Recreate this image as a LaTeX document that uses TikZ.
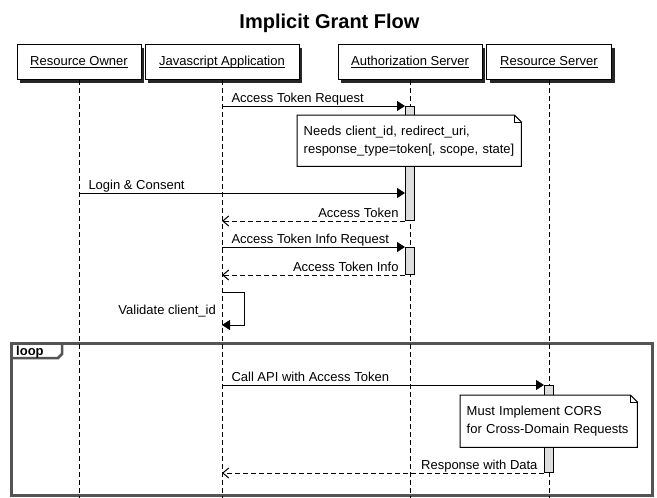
\documentclass[tikz,border=0pt]{standalone}
\usepackage{fontspec}
\setmainfont{Liberation Sans}
\usetikzlibrary{
    positioning,      % relative placement
    arrows.meta,      % Triangle and Straight Barb tips
    shadows           % drop shadow of the participant boxes
}

\begin{document}
\begin{tikzpicture}[
    x=1pt, y=-1pt,
    % Style for the participant boxes
    actor/.style={
        draw, fill=white, line width=1pt,
        minimum height=35pt, inner sep=0pt,
        text height=10pt, text depth=3pt,
        font=\fontsize{13}{15}\selectfont,
        drop shadow={shadow xshift=3pt, shadow yshift=-3pt, fill=black, opacity=0.85}
    },
    % Style for the dashed lifelines
    lifeline/.style={
        line width=1pt,
        dash pattern=on 5pt off 3pt
    },
    % Style for the activation bars
    act_bar/.style={
        draw, fill=black!13, line width=1pt,
        minimum width=9pt, inner sep=0pt, anchor=north
    },
    % Style for the calls (solid, filled head)
    msg/.style={
        line width=1pt,
        -{Triangle[length=8pt, width=10pt]}
    },
    % Style for the answers (dashed, open head)
    reply/.style={
        line width=1pt,
        dash pattern=on 5pt off 3pt,
        -{Straight Barb[length=6pt, width=10pt]}
    },
    % Style for the message texts
    msg_label/.style={
        font=\fontsize{13}{15}\selectfont,
        inner sep=0pt
    },
    % Style for the notes
    note/.style={
        fill=white, anchor=north west,
        inner xsep=6.5pt, inner ysep=0pt, align=left,
        font=\fontsize{13}{18}\selectfont
    },
    fold_line/.style={
        line width=1pt
    },
    % Style for the loop frame
    frame_box/.style={
        draw=black!67, line width=3pt,
        inner sep=0pt, anchor=north west
    },
    tab_line/.style={
        draw=black!67, line width=2.5pt
    }
]
    \useasboundingbox (0,0) rectangle (657,498);

    % 1. Title and participants.
    \node[font=\bfseries\fontsize{20}{24}\selectfont, anchor=base] (title) at (329.5,28) {Implicit Grant Flow};

    \node[actor, minimum width=124pt] (owner)   at (79,62)  {\underline{\smash{Resource Owner}}};
    \node[actor, minimum width=154pt] (jsapp)   at (222,62) {\underline{\smash{Javascript Application}}};
    \node[actor, minimum width=144pt] (authsrv) at (410,62) {\underline{\smash{Authorization Server}}};
    \node[actor, minimum width=125pt] (ressrv)  at (549,62) {\underline{\smash{Resource Server}}};

    % 2. The loop frame with its tab.
    \node[frame_box, minimum width=641pt, minimum height=151.5pt] (loop) at (10,342) {};
    \draw[tab_line] ([yshift=-16pt]loop.north west) -- ++(48,0) -- ++(4,-4) -- ++(0,-12);
    \node[msg_label, font=\bfseries\fontsize{13}{15}\selectfont, anchor=base west] (loop_tag) at (16,355) {loop};

    % 3. Lifelines.
    \coordinate (bottom) at (0,498);
    \foreach \p in {owner, jsapp, authsrv, ressrv}
        \draw[lifeline] (\p.south) -- (\p.south |- bottom);

    % rows of the messages
    \coordinate (r1) at (0,106);
    \coordinate (r2) at (0,193);
    \coordinate (r4) at (0,247);
    \coordinate (r_self) at (0,292);
    \coordinate (r_self_end) at (0,325);
    \coordinate (r_validate) at (0,314);
    \coordinate (r6) at (0,385);

    % 4. Activation bars.
    \node[act_bar, minimum height=114pt] (act1) at (authsrv |- r1) {};
    \node[act_bar, minimum height=27pt]  (act2) at (authsrv |- r4) {};
    \node[act_bar, minimum height=87pt]  (act3) at (ressrv |- r6)  {};

    % 5. Messages.
    \draw[msg] (jsapp |- r1) -- node[msg_label, at start, anchor=base west, xshift=9pt, yshift=3.5pt] (lbl_request) {Access Token Request} (act1.north west);
    \draw[msg] (owner |- r2) -- node[msg_label, at start, anchor=base west, xshift=9pt, yshift=3.5pt] (lbl_login) {Login \& Consent} (act1.west |- r2);
    \draw[reply] (act1.south west) -- node[msg_label, at start, anchor=base east, xshift=-6pt, yshift=3.5pt] (lbl_token) {Access Token} (jsapp |- act1.south);
    \draw[msg] (jsapp |- r4) -- node[msg_label, at start, anchor=base west, xshift=9pt, yshift=3.5pt] (lbl_info_request) {Access Token Info Request} (act2.north west);
    \draw[reply] (act2.south west) -- node[msg_label, at start, anchor=base east, xshift=-6pt, yshift=3.5pt] (lbl_info) {Access Token Info} (jsapp |- act2.south);

    \draw[msg] (jsapp |- r_self) -- ++(22,0) -- ++(0,33) -- (jsapp |- r_self_end);
    \node[msg_label, anchor=base east, xshift=-6pt] (lbl_validate) at (jsapp |- r_validate) {Validate client\_id};

    \draw[msg] (jsapp |- r6) -- node[msg_label, at start, anchor=base west, xshift=9pt, yshift=3.5pt] (lbl_call) {Call API with Access Token} (act3.north west);
    \draw[reply] (act3.south west) -- node[msg_label, at start, anchor=base east, xshift=-6pt, yshift=3.5pt] (lbl_response) {Response with Data} (jsapp |- act3.south);

    % 6. Notes with folded corner.
    \node[note, text width=211pt, minimum height=51pt] (note_auth) at (297,115)
        {Needs client\_id, redirect\_uri,\\response\_type=token[, scope, state]};
    \draw[fold_line] (note_auth.north west) -- ([xshift=-7pt]note_auth.north east) -- ([yshift=-7pt]note_auth.north east)
        -- (note_auth.south east) -- (note_auth.south west) -- cycle;
    \draw[fold_line] ([xshift=-7pt]note_auth.north east) |- ([yshift=-7pt]note_auth.north east);

    \node[note, text width=164pt, minimum height=52pt] (note_cors) at (460,395)
        {Must Implement CORS\\for Cross-Domain Requests};
    \draw[fold_line] (note_cors.north west) -- ([xshift=-7pt]note_cors.north east) -- ([yshift=-7pt]note_cors.north east)
        -- (note_cors.south east) -- (note_cors.south west) -- cycle;
    \draw[fold_line] ([xshift=-7pt]note_cors.north east) |- ([yshift=-7pt]note_cors.north east);

\end{tikzpicture}
\end{document}
